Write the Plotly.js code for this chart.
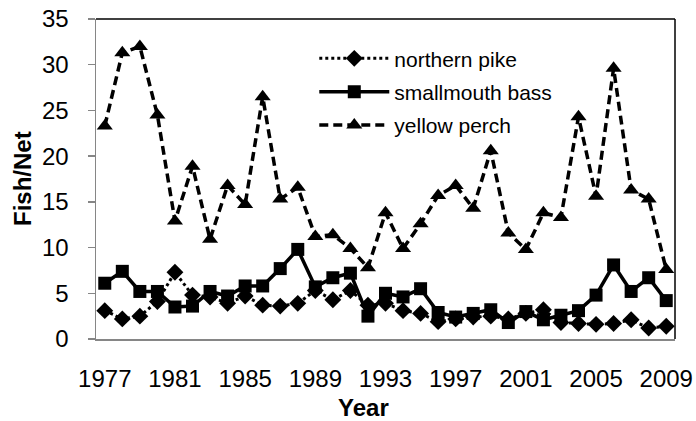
<!DOCTYPE html>
<html><head><meta charset="utf-8">
<script src="https://cdn.plot.ly/plotly-3.0.1.min.js"></script>
<style>html,body{margin:0;padding:0;background:#fff}#chart{width:696px;height:421px}</style>
</head><body><div id="chart"></div>
<script>
const years = [1977,1978,1979,1980,1981,1982,1983,1984,1985,1986,1987,1988,1989,1990,1991,1992,1993,1994,1995,1996,1997,1998,1999,2000,2001,2002,2003,2004,2005,2006,2007,2008,2009];
const northernPike = [3.1,2.2,2.5,4.1,7.3,4.8,4.6,3.9,4.7,3.7, 3.6,3.9,5.3,4.3,5.3,3.7,3.9,3.1,2.8,1.9, 2.2,2.4,2.5,2.2,2.8,3.2,1.8,1.7,1.6,1.7, 2.1,1.2,1.4];
const smallmouthBass = [6.1,7.4,5.2,5.2,3.5,3.6,5.2,4.7,5.8,5.8, 7.7,9.8,5.7,6.7,7.2,2.5,5.0,4.6,5.5,2.9, 2.4,2.8,3.2,1.8,3.0,2.1,2.6,3.1,4.8,8.1, 5.2,6.7,4.2];
const yellowPerch = [23.3,31.3,32.0,24.5,12.9,18.9,10.9,16.8,14.7,26.5, 15.3,16.6,11.2,11.4,9.9,7.8,13.8,9.9,12.6,15.7, 16.8,14.3,20.6,11.6,9.8,13.8,13.3,24.3,15.6,29.6, 16.3,15.3,7.6];
const seriesNames = ['northern pike','smallmouth bass','yellow perch'];
const labelYears = years.filter((y,i)=>i%4===0);
const boundaryTicks = years.filter((y,i)=>i%2===0).map(y=>y-0.5);

const FONT = 'Liberation Sans, Arial, sans-serif';
const traces = [
  {x:years, y:northernPike, name:seriesNames[0], legendgroup:'a', type:'scatter', mode:'lines+markers',
   line:{color:'#000', width:3, dash:'dot'}, marker:{symbol:'diamond', size:13, color:'#000'}},
  {x:years, y:smallmouthBass, name:seriesNames[1], legendgroup:'b', type:'scatter', mode:'lines+markers',
   line:{color:'#000', width:3.5}, marker:{symbol:'square', size:13, color:'#000'}},
  {x:years, y:yellowPerch, name:seriesNames[2], legendgroup:'c', type:'scatter', mode:'lines+markers',
   line:{color:'#000', width:3.5, dash:'9px,5px'}, marker:{symbol:'triangle-up', size:14, color:'#000'}}
];
const layout = {
  width:696, height:421, margin:{l:96, r:21, t:19, b:82},
  paper_bgcolor:'#fff', plot_bgcolor:'#fff',
  font:{family:FONT, size:24, color:'#000'},
  showlegend:true,
  legend:{x:0.377, y:0.94, xanchor:'left', yanchor:'top', font:{size:21, color:'#000'},
          itemwidth:70, bgcolor:'rgba(0,0,0,0)', traceorder:'grouped', tracegroupgap:3},
  xaxis:{range:[1976.5,2009.5], tickmode:'array', tickvals:labelYears, ticktext:labelYears.map(String),
         ticks:'', showline:true, linecolor:'#868686', linewidth:1.5, showgrid:false, zeroline:false,
         ticklabelstandoff:18, automargin:false, fixedrange:true},
  xaxis2:{overlaying:'x', anchor:'y', side:'bottom', range:[1976.5,2009.5], tickmode:'array', tickvals:boundaryTicks,
          showticklabels:false, ticks:'outside', ticklen:6, tickcolor:'#868686', tickwidth:1.5,
          showgrid:false, zeroline:false, showline:false, automargin:false},
  yaxis:{range:[0,35], tick0:0, dtick:5, ticks:'outside', ticklen:7, tickcolor:'#868686', tickwidth:1.5,
         showline:true, linecolor:'#868686', linewidth:1.5, showgrid:false, zeroline:false,
         ticklabelstandoff:14, automargin:false},
  shapes:[
    {type:'line', xref:'paper', yref:'paper', x0:0, x1:1, y0:1, y1:1, line:{color:'#000', width:1.5}},
    {type:'line', xref:'paper', yref:'paper', x0:1, x1:1, y0:0, y1:1, line:{color:'#000', width:1.5}}
  ],
  annotations:[
    {text:'<b>Year</b>', xref:'paper', yref:'paper', x:(363-96)/579, y:-(423-339)/320, xanchor:'center', yanchor:'bottom',
     showarrow:false, font:{family:FONT, size:24, color:'#000'}},
    {text:'<b>Fish/Net</b>', xref:'paper', yref:'paper', x:-(96-22)/579, y:0.5, xanchor:'center', yanchor:'middle',
     textangle:-90, showarrow:false, font:{family:FONT, size:24, color:'#000'}}
  ]
};
Plotly.newPlot('chart', traces, layout, {displayModeBar:false, staticPlot:true});
</script>
</body></html>
